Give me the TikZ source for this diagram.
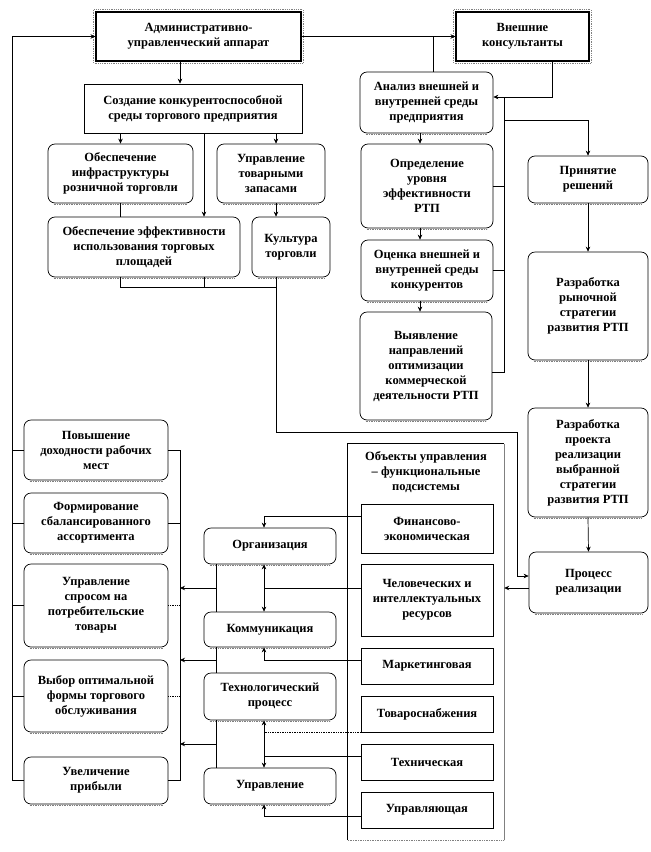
\documentclass[tikz,border=0pt]{standalone}
\usepackage{fontspec}
\setmainfont{Liberation Serif}
\usetikzlibrary{arrows.meta}
\begin{document}
\begin{tikzpicture}[x=1pt,y=-1pt,
  every node/.style={font=\bfseries\fontsize{12.5}{15}\selectfont, align=center, inner sep=1pt},
  rbox/.style={draw, rounded corners=7pt, line width=0.7pt},
  sbox/.style={draw, line width=0.7pt},
  hbox/.style={draw, line width=1.1pt},
  ln/.style={line width=0.7pt},
  arr/.style={ln, -{Stealth[length=5pt,width=4.5pt]}},
  darr/.style={ln, {Stealth[length=5pt,width=4.5pt]}-{Stealth[length=5pt,width=4.5pt]}},
  dln/.style={ln, densely dotted},
  shad/.style={densely dotted, gray, line width=0.7pt},
]
\useasboundingbox (0,0) rectangle (651,852);

% top
\node[hbox, minimum width=205pt, minimum height=49pt] (adm) at (198.5,36.5) {Административно-\\управленческий аппарат};
\node[hbox, minimum width=133pt, minimum height=49pt] (ext) at (522.5,36.5) {Внешние\\консультанты};
\draw[densely dotted, line width=0.8pt, gray] ([xshift=-1.6pt,yshift=1.6pt]adm.north west) rectangle ([xshift=1.6pt,yshift=-1.6pt]adm.south east);
\draw[densely dotted, line width=0.8pt, gray] ([xshift=-1.6pt,yshift=1.6pt]ext.north west) rectangle ([xshift=1.6pt,yshift=-1.6pt]ext.south east);

\node[sbox, minimum width=218pt, minimum height=49pt] (sozd) at (193,108.5) {Создание конкурентоспособной\\среды торгового предприятия};
\node[rbox, minimum width=145pt, minimum height=59pt] (infra) at (120.5,173.5) {Обеспечение\\инфраструктуры\\розничной торговли};
\node[rbox, minimum width=108pt, minimum height=59pt] (tovzap) at (271,173.5) {Управление\\товарными\\запасами};
\node[rbox, minimum width=192pt, minimum height=60pt] (effekt) at (144,247) {Обеспечение эффективности\\использования торговых\\площадей};
\node[rbox, minimum width=78pt, minimum height=60pt] (kult) at (291,247) {Культура\\торговли};

% analysis column
\node[rbox, minimum width=133pt, minimum height=61pt] (anal) at (426.5,102.5) {Анализ внешней и\\внутренней среды\\предприятия};
\node[rbox, minimum width=132pt, minimum height=84pt] (opr) at (427,186) {Определение\\уровня\\эффективности\\РТП};
\node[rbox, minimum width=132pt, minimum height=61pt] (ocen) at (427,270.5) {Оценка внешней и\\внутренней среды\\конкурентов};
\node[rbox, minimum width=132pt, minimum height=108pt] (vyav) at (426,366) {Выявление\\направлений\\оптимизации\\коммерческой\\деятельности РТП};

% right column
\node[rbox, minimum width=120pt, minimum height=47pt] (prin) at (588,179.5) {Принятие\\решений};
\node[rbox, minimum width=120pt, minimum height=108pt] (rynok) at (588,306) {Разработка\\рыночной\\стратегии\\развития РТП};
\node[rbox, minimum width=120pt, minimum height=109pt] (proekt) at (588,462.5) {Разработка\\проекта\\реализации\\выбранной\\стратегии\\развития РТП};
\node[rbox, minimum width=119pt, minimum height=61pt] (process) at (588.5,582.5) {Процесс\\реализации};

% objects
\node[minimum width=156pt, minimum height=396pt] (obj) at (426,642) {};
\draw[line width=0.7pt] (obj.south west) -- (obj.north west) -- (obj.north east);
\draw[line width=0.9pt, gray] (obj.north east) -- (obj.south east);
\draw[shad] (obj.south west) -- (obj.south east);
\node (objt) at (426,472) {Объекты управления\\– функциональные\\подсистемы};
\node[sbox, minimum width=132pt, minimum height=49pt] (fin) at (427,528.5) {Финансово-\\экономическая};
\node[sbox, minimum width=132pt, minimum height=72pt] (chel) at (427,600) {Человеческих и\\интеллектуальных\\ресурсов};
\node[sbox, minimum width=132pt, minimum height=36pt] (mark) at (427,666) {Маркетинговая};
\node[sbox, minimum width=132pt, minimum height=36pt] (tovsn) at (427,714) {Товароснабжения};
\node[sbox, minimum width=132pt, minimum height=36pt] (tech) at (427,762) {Техническая};
\node[sbox, minimum width=132pt, minimum height=36pt] (upr2) at (427,810) {Управляющая};

% middle column
\node[rbox, minimum width=132pt, minimum height=36pt] (org) at (270,546) {Организация};
\node[rbox, minimum width=132pt, minimum height=35pt] (komm) at (270,629.5) {Коммуникация};
\node[rbox, minimum width=132pt, minimum height=47pt] (techproc) at (270,696.5) {Технологический\\процесс};
\node[rbox, minimum width=132pt, minimum height=36pt] (uprav) at (270,786) {Управление};

% left column
\node[rbox, minimum width=144pt, minimum height=60pt] (povysh) at (96,450) {Повышение\\доходности рабочих\\мест};
\node[rbox, minimum width=144pt, minimum height=60pt] (form) at (96,523) {Формирование\\сбалансированного\\ассортимента};
\node[rbox, minimum width=144pt, minimum height=83pt] (spros) at (96,605.5) {Управление\\спросом на\\потребительские\\товары};
\node[rbox, minimum width=144pt, minimum height=72pt] (vybor) at (96,696) {Выбор оптимальной\\формы торгового\\обслуживания};
\node[rbox, minimum width=144pt, minimum height=47pt] (uvel) at (96,780.5) {Увеличение\\прибыли};

% dotted shadows under rounded boxes
\foreach \n in {infra,tovzap,effekt,kult,anal,opr,ocen,vyav,prin,rynok,proekt,process,org,komm,techproc,uprav,povysh,form,spros,vybor,uvel}
  \draw[shad] ([xshift=6pt,yshift=-1.3pt]\n.south west) -- ([xshift=-6pt,yshift=-1.3pt]\n.south east);

% coordinates
\coordinate (lb) at (12,0);
\coordinate (rb) at (180,0);
\coordinate (a1) at (180,72);
\coordinate (c204) at (204,287);
\coordinate (q1) at (276,287);
\coordinate (q3) at (517,432);
\coordinate (q4) at (517,576);
\coordinate (t1) at (433,36.5);
\coordinate (e1) at (552,97);
\coordinate (r1) at (504,97);
\coordinate (r2) at (504,120);
\coordinate (r3) at (504,372);
\coordinate (c420) at (420,0);
\coordinate (p1) at (529,588);
\coordinate (j1) at (216,588);
\coordinate (j2) at (216,660);
\coordinate (j3) at (216,744);
\coordinate (k1) at (264,516);
\coordinate (k2) at (264,588);
\coordinate (k3) at (264,660);
\coordinate (k4) at (264,732);
\coordinate (k5) at (264,756);
\coordinate (k6) at (264,816);

% top connectors
\draw[arr] (adm.east) -- (ext.west);
\draw[ln] (t1) -- (anal.north -| t1);
\draw[arr] (adm.south -| a1) -- (sozd.north -| a1);
\draw[arr] (ext.south -| e1) |- (anal.east |- e1);
\draw[ln] (r1) |- (vyav.east |- r3);
\draw[arr] (r2) -| (prin.north);
\draw[ln] (opr.east) -- (opr.east -| r1);
\draw[ln] (ocen.east) -- (ocen.east -| r1);
\draw[arr] (anal.south -| c420) -- (opr.north -| c420);
\draw[arr] (opr.south -| c420) -- (ocen.north -| c420);
\draw[arr] (ocen.south -| c420) -- (vyav.north -| c420);
\draw[arr] (prin.south) -- (rynok.north);
\draw[arr] (rynok.south) -- (proekt.north);
\draw[arr] (proekt.south) -- (process.north);

% left upper connectors
\draw[arr] (sozd.south -| infra.north) -- (infra.north);
\draw[arr] (sozd.south -| c204) -- (effekt.north -| c204);
\draw[arr] (sozd.south -| q1) -- (tovzap.north -| q1);
\draw[ln] (infra.south) -- (effekt.north -| infra.south);
\draw[arr] (tovzap.south -| q1) -- (kult.north -| q1);
\draw[ln] (effekt.south -| infra.south) |- (q1);
\draw[ln] (effekt.south -| c204) -- (c204);
\draw[arr] (kult.south -| q1) |- (q3) |- (process.west |- q4);

% process to objects
\draw[arr] (process.west |- p1) -- (obj.east |- p1);

% objects to middle column
\draw[arr] (fin.west |- k1) -- (k1) -- (org.north -| k1);
\draw[ln] (chel.west |- k2) -- (k2);
\draw[darr] (org.south -| k2) -- (komm.north -| k2);
\draw[arr] (mark.west |- k3) -- (k3) -- (komm.south -| k3);
\draw[dln] (tovsn.west |- k4) -- (k4);
\draw[darr] (techproc.south -| k4) -- (uprav.north -| k4);
\draw[ln] (tech.west |- k5) -- (k5);
\draw[arr] (upr2.west |- k6) -- (k6) -- (uprav.south -| k6);

% middle column bus
\draw[ln] (org.south -| j1) -- (komm.north -| j1);
\draw[ln] (komm.south -| j1) -- (techproc.north -| j1);
\draw[ln] (techproc.south -| j1) -- (uprav.north -| j1);
\draw[arr] (j1) -- (j1 -| rb);
\draw[arr] (j2) -- (j2 -| rb);
\draw[arr] (j3) -- (j3 -| rb);

% left column buses
\draw[ln] (povysh.east) -- (povysh.east -| rb) -- (uvel.east -| rb) -- (uvel.east);
\draw[ln] (form.east) -- (form.east -| rb);
\draw[dln] (spros.east) -- (spros.east -| rb);
\draw[dln] (vybor.east) -- (vybor.east -| rb);
\draw[arr] (uvel.west) -- (uvel.west -| lb) |- (adm.west);
\draw[ln] (povysh.west) -- (povysh.west -| lb);
\draw[ln] (form.west) -- (form.west -| lb);
\draw[ln] (spros.west) -- (spros.west -| lb);
\draw[ln] (vybor.west) -- (vybor.west -| lb);
\end{tikzpicture}
\end{document}
